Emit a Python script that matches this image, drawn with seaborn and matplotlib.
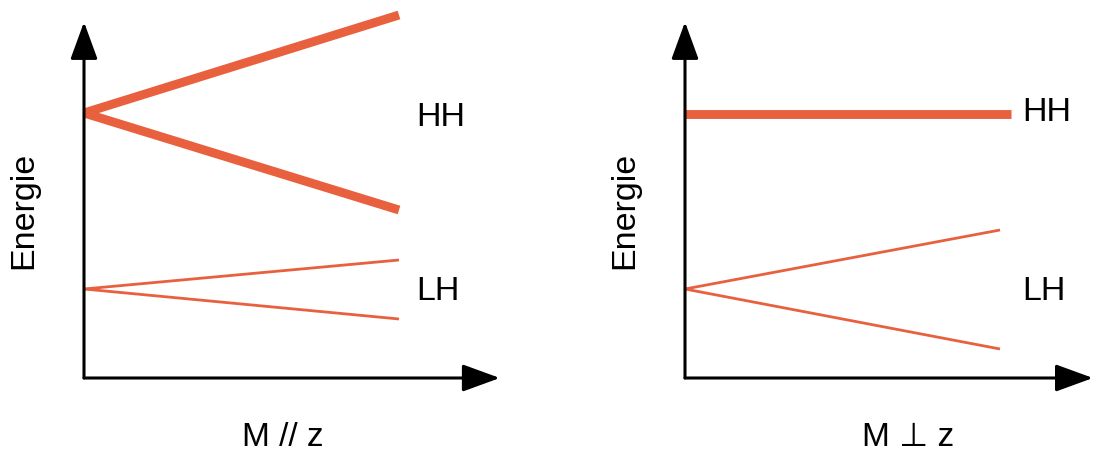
import matplotlib
matplotlib.use("Agg")
import matplotlib.pyplot as plt
import seaborn as sns

sns.set_style("white")
plt.rcParams["font.family"] = ["Liberation Sans", "DejaVu Sans"]
plt.rcParams["text.color"] = "black"

# field strength (arbitrary units) and band energies (arbitrary units)
m_left = [0.0, 1.0]
hh_par_up = [2.65, 3.63]
hh_par_down = [2.65, 1.68]
lh_par_up = [0.89, 1.18]
lh_par_down = [0.89, 0.59]

m_right_hh = [0.0, 1.035]
hh_perp = [2.64, 2.64]
m_right_lh = [0.0, 1.0]
lh_perp_up = [0.89, 1.48]
lh_perp_down = [0.89, 0.29]

band_labels = ["HH", "LH"]
x_labels = ["M // z", "M \u22a5 z"]

red = "#E9603F"
W, H = 1095, 455
px_per_x, px_per_y = 315, 100
xmax, ymax = 1.32, 3.63

fig = plt.figure(figsize=(W / 100, H / 100), dpi=100)
arrow = dict(arrowstyle="-|>,head_length=1.15,head_width=0.42", color="black",
             lw=2.2, mutation_scale=20, shrinkA=0, shrinkB=0)


def make_ax(x0, x_tip):
    ax = fig.add_axes([x0 / W, (H - 378) / H, xmax * px_per_x / W, ymax * px_per_y / H])
    ax.set_xlim(0, xmax)
    ax.set_ylim(0, ymax)
    ax.axis("off")
    ax.annotate("", xy=(0, 3.56), xytext=(0, 0), arrowprops=arrow, annotation_clip=False)
    ax.annotate("", xy=(x_tip, 0), xytext=(0, 0), arrowprops=arrow, annotation_clip=False)
    return ax


axL = make_ax(84, 1.32)
for ys, lw in [(hh_par_up, 6.4), (hh_par_down, 6.4), (lh_par_up, 2.0), (lh_par_down, 2.0)]:
    sns.lineplot(x=m_left, y=ys, ax=axL, color=red, linewidth=lw, solid_capstyle="butt")
for ln in axL.lines:
    ln.set_clip_on(False)
axL.text(1.055, 2.60, band_labels[0], fontsize=24.5, va="center", ha="left")
axL.text(1.055, 0.87, band_labels[1], fontsize=24.5, va="center", ha="left")
axL.text(-0.19, 1.68, "Energie", fontsize=24.5, rotation=90, va="center", ha="center")
axL.text(0.632, -0.59, x_labels[0], fontsize=24, va="center", ha="center")

axR = make_ax(685, 1.295)
sns.lineplot(x=m_right_hh, y=hh_perp, ax=axR, color=red, linewidth=6.4, solid_capstyle="butt")
for ys in [lh_perp_up, lh_perp_down]:
    sns.lineplot(x=m_right_lh, y=ys, ax=axR, color=red, linewidth=2.0, solid_capstyle="butt")
for ln in axR.lines:
    ln.set_clip_on(False)
axR.text(1.07, 2.65, band_labels[0], fontsize=24.5, va="center", ha="left")
axR.text(1.07, 0.87, band_labels[1], fontsize=24.5, va="center", ha="left")
axR.text(-0.19, 1.68, "Energie", fontsize=24.5, rotation=90, va="center", ha="center")
axR.text(0.708, -0.59, x_labels[1], fontsize=24, va="center", ha="center")

fig.savefig("out.png", dpi=100)
